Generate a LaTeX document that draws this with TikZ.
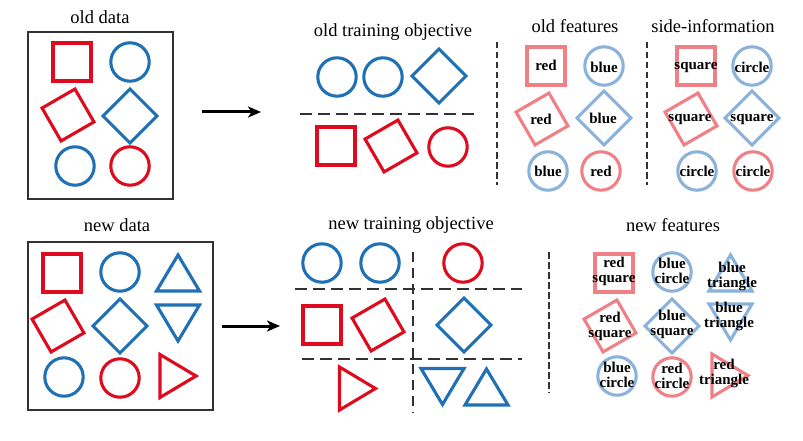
\documentclass[tikz,border=0pt]{standalone}
\usepackage{fontspec}
\setmainfont{Liberation Serif}
\usetikzlibrary{arrows.meta}
\definecolor{sred}{RGB}{222,10,30}
\definecolor{sblue}{RGB}{31,112,181}
\definecolor{fred}{RGB}{238,128,134}
\definecolor{fblue}{RGB}{138,178,218}
\definecolor{dline}{RGB}{50,50,50}
\tikzset{
  x=1pt, y=-1pt,
  shp/.style={line width=3.1pt},
  sq/.pic={\draw[shp,pic actions] (-19,-19) rectangle (19,19);},
  circ/.pic={\draw[shp,pic actions] (0,0) circle (19.2);},
  diam/.pic={\draw[shp,pic actions] (-27,0) -- (0,-27) -- (27,0) -- (0,27) -- cycle;},
  tri/.pic={\draw[shp,pic actions] (0,-17.5) -- (21.5,18.5) -- (-21.5,18.5) -- cycle;},
  head/.style={font=\fontsize{18.5}{20}\selectfont},
  feat/.style={font=\fontsize{15}{15}\selectfont\bfseries, align=center, text=black, inner sep=0pt},
  databox/.style={draw=dline, line width=1.6pt},
  hdash/.style={draw=dline, line width=1.1pt, dash pattern=on 12pt off 6pt},
  vdash/.style={draw=dline, line width=1.1pt, dash pattern=on 6.5pt off 3.5pt},
  vdashb/.style={draw=dline, line width=1.1pt, dash pattern=on 10pt off 6pt},
  flow/.style={line width=3pt, -{Stealth[length=13pt,width=11pt,inset=3.5pt]}},
}
\begin{document}
\begin{tikzpicture}
\useasboundingbox (0,0) rectangle (803,441);

% ---------- old data ----------
\node[head] (olddata) at (100,17) {old data};
\draw[databox] (28,32) rectangle (173,199);
\pic[draw=sred] at (72,62) {sq};
\pic[draw=sblue] at (130,62) {circ};
\pic[draw=sred, rotate=30] at (68,115) {sq};
\pic[draw=sblue] at (130,116) {diam};
\pic[draw=sblue] at (75,166) {circ};
\pic[draw=sred] at (130,166) {circ};
\coordinate (a1s) at (202,112);
\coordinate (a1e) at (261,112);
\draw[flow] (a1s) -- (a1e);

% ---------- old training objective ----------
\node[head] (oldobj) at (393,32) {old training objective};
\pic[draw=sblue] at (337,77) {circ};
\pic[draw=sblue] at (383,77) {circ};
\pic[draw=sblue] at (439,76) {diam};
\coordinate (oh1) at (300,114);
\coordinate (oh2) at (475,114);
\draw[hdash] (oh1) -- (oh2);
\pic[draw=sred] at (336,146) {sq};
\pic[draw=sred, rotate=30] at (391,146) {sq};
\pic[draw=sred] at (448,147) {circ};
\coordinate (ov1) at (497,42);
\coordinate (ov2) at (497,185);
\draw[vdash] (ov1) -- (ov2);

% ---------- old features ----------
\node[head] (oldfeat) at (575,26) {old features};
\pic[draw=fred] at (546,66) {sq};
\node[feat] (of1) at (546,65) {red};
\pic[draw=fblue] at (604,66) {circ};
\node[feat] (of2) at (604,67) {blue};
\pic[draw=fred, rotate=30] at (542,119) {sq};
\node[feat] (of3) at (541,119) {red};
\pic[draw=fblue] at (604,118) {diam};
\node[feat] (of4) at (603,118) {blue};
\pic[draw=fblue] at (548,171) {circ};
\node[feat] (of5) at (548,171) {blue};
\pic[draw=fred] at (601,171) {circ};
\node[feat] (of6) at (601,171) {red};

\coordinate (sv1) at (647,42);
\coordinate (sv2) at (647,185);
\draw[vdash] (sv1) -- (sv2);

% ---------- side-information ----------
\node[head] (side) at (713,26) {side-information};
\pic[draw=fred] at (696,66) {sq};
\node[feat] (si1) at (696,67) {square};
\pic[draw=fblue] at (752,66) {circ};
\node[feat] (si2) at (752,67) {circle};
\pic[draw=fred, rotate=30] at (691,119) {sq};
\node[feat] (si3) at (690,119) {square};
\pic[draw=fblue] at (752,118) {diam};
\node[feat] (si4) at (752,119) {square};
\pic[draw=fblue] at (697,171) {circ};
\node[feat] (si5) at (697,171) {circle};
\pic[draw=fred] at (753,171) {circ};
\node[feat] (si6) at (753,171) {circle};

% ---------- new data ----------
\node[head] (newdata) at (117,225) {new data};
\draw[databox] (28,242) rectangle (213,410);
\pic[draw=sred] at (62,273) {sq};
\pic[draw=sblue] at (120,272) {circ};
\pic[draw=sblue] at (178,272.5) {tri};
\pic[draw=sred, rotate=30] at (58,326) {sq};
\pic[draw=sblue] at (120,326) {diam};
\pic[draw=sblue, rotate=180] at (178,323.5) {tri};
\pic[draw=sblue] at (64,377) {circ};
\pic[draw=sred] at (120,378) {circ};
\pic[draw=sred, rotate=-90] at (178.5,376) {tri};
\coordinate (a2s) at (222,326);
\coordinate (a2e) at (280,326);
\draw[flow] (a2s) -- (a2e);

% ---------- new training objective ----------
\node[head] (newobj) at (411,225) {new training objective};
\pic[draw=sblue] at (322,263) {circ};
\pic[draw=sblue] at (380,263) {circ};
\pic[draw=sred] at (463,263) {circ};
\coordinate (nh1) at (295,289);
\coordinate (nh2) at (522,289);
\coordinate (nh3) at (302,359);
\coordinate (nh4) at (522,359);
\coordinate (nv1) at (413,252);
\coordinate (nv2) at (413,413);
\draw[hdash] (nh1) -- (nh2);
\draw[hdash] (nh3) -- (nh4);
\draw[vdashb] (nv1) -- (nv2);
\pic[draw=sred] at (322,325) {sq};
\pic[draw=sred, rotate=30] at (378,325) {sq};
\pic[draw=sblue] at (464,325) {diam};
\pic[draw=sred, rotate=-90] at (358,388.5) {tri};
\pic[draw=sblue, rotate=180] at (442.5,387) {tri};
\pic[draw=sblue] at (486.5,386.5) {tri};

% ---------- new features ----------
\node[head] (newfeat) at (673,225) {new features};
\coordinate (fv1) at (549,252);
\coordinate (fv2) at (549,393);
\draw[vdash] (fv1) -- (fv2);
\pic[draw=fred] at (614,273) {sq};
\node[feat] (nf1) at (614,271) {red\\square};
\pic[draw=fblue] at (672,272) {circ};
\node[feat] (nf2) at (672,271) {blue\\circle};
\pic[draw=fblue] at (730.5,272.5) {tri};
\node[feat] (nf3) at (732,276) {blue\\triangle};
\pic[draw=fred, rotate=30] at (610,326) {sq};
\node[feat] (nf4) at (610,326) {red\\square};
\pic[draw=fblue] at (672,326) {diam};
\node[feat] (nf5) at (672,324) {blue\\square};
\pic[draw=fblue, rotate=180] at (730.5,322.5) {tri};
\node[feat] (nf6) at (729,316) {blue\\triangle};
\pic[draw=fblue] at (617,376) {circ};
\node[feat] (nf7) at (617,375) {blue\\circle};
\pic[draw=fred] at (672,377) {circ};
\node[feat] (nf8) at (672,376) {red\\circle};
\pic[draw=fred, rotate=-90] at (730.5,375.5) {tri};
\node[feat] (nf9) at (724,373) {red\\triangle};
\end{tikzpicture}
\end{document}
